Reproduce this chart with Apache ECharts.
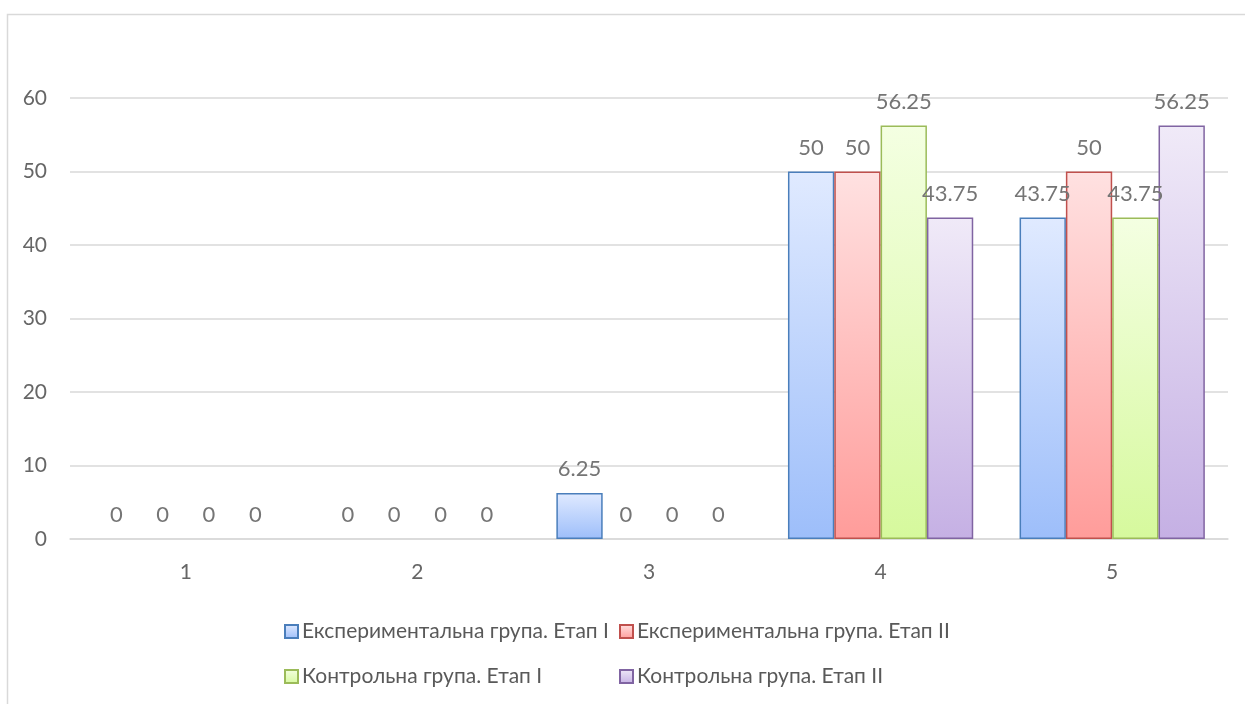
<!DOCTYPE html>
<html>
<head>
<meta charset="utf-8">
<script src="https://cdn.jsdelivr.net/npm/echarts@6/dist/echarts.min.js"></script>
<style>
  html, body { margin: 0; padding: 0; background: #ffffff; }
  #chart { width: 1245px; height: 704px; }
</style>
</head>
<body>
<div id="chart"></div>
<script>
// Categories along the x axis
const categories = ['1', '2', '3', '4', '5'];

// Series names (legend text)
const seriesNames = [
  'Експериментальна група. Етап I',
  'Експериментальна група. Етап II',
  'Контрольна група. Етап I',
  'Контрольна група. Етап II'
];

// Values per series
const expStage1 = [0, 0, 6.25, 50, 43.75];
const expStage2 = [0, 0, 0, 50, 50];
const ctrlStage1 = [0, 0, 0, 56.25, 43.75];
const ctrlStage2 = [0, 0, 0, 43.75, 56.25];

// Y axis range
const yMin = 0;
const yMax = 60;
const yStep = 10;

// Fill gradients (top, bottom) and outline colours per series
const palette = [
  { top: '#e0eaff', bottom: '#9dbefa', border: '#4a7ebb' },
  { top: '#ffe1e1', bottom: '#ff9c9a', border: '#c0504d' },
  { top: '#f4ffe2', bottom: '#d6f99d', border: '#9bbb59' },
  { top: '#f0eaf8', bottom: '#c5b0e4', border: '#8064a2' }
];

const allValues = [expStage1, expStage2, ctrlStage1, ctrlStage2];

const textFont = 'Lato, "Liberation Sans", Arial, sans-serif';

function makeSeries(name, values, colors) {
  return {
    name: name,
    type: 'bar',
    barGap: '0%',
    barCategoryGap: '20%',
    itemStyle: {
      color: new echarts.graphic.LinearGradient(0, 0, 0, 1, [
        { offset: 0, color: colors.top },
        { offset: 1, color: colors.bottom }
      ]),
      borderColor: colors.border,
      borderWidth: 1.5
    },
    label: {
      show: true,
      position: 'top',
      distance: 13,
      color: '#757575',
      fontSize: 22,
      fontFamily: textFont
    },
    // a zero-height bar should not leave an outline stroke on the baseline
    data: values.map(v => v === 0 ? { value: 0, itemStyle: { borderWidth: 0 } } : v)
  };
}

const chart = echarts.init(document.getElementById('chart'), null, { renderer: 'canvas' });

// one legend per entry so the entries sit in two aligned columns
const legendSlots = [
  { left: 284, top: 621 },
  { left: 619, top: 621 },
  { left: 284, top: 666 },
  { left: 619, top: 666 }
];

const legends = seriesNames.map((name, i) => ({
  data: [name],
  left: legendSlots[i].left,
  top: legendSlots[i].top,
  padding: 0,
  icon: 'rect',
  itemWidth: 13,
  itemHeight: 13,
  itemGap: 0,
  selectedMode: false,
  textStyle: {
    color: '#595959',
    fontSize: 21,
    fontFamily: textFont,
    padding: [0, 0, 0, -1]
  }
}));

chart.setOption({
  animation: false,
  backgroundColor: '#ffffff',
  graphic: [{
    type: 'rect',
    silent: true,
    shape: { x: 7.5, y: 14.5, width: 1400, height: 900 },
    style: { fill: 'none', stroke: '#d9d9d9', lineWidth: 1.5 }
  }],
  legend: legends,
  grid: { left: 70, right: 17, top: 98, bottom: 165, containLabel: false },
  xAxis: {
    type: 'category',
    data: categories,
    axisLine: { show: true, lineStyle: { color: '#d9d9d9', width: 1.5 } },
    axisTick: { show: false },
    axisLabel: {
      color: '#666666',
      fontSize: 21,
      fontFamily: textFont,
      margin: 23
    }
  },
  yAxis: {
    type: 'value',
    min: yMin,
    max: yMax,
    interval: yStep,
    axisLine: { show: false },
    axisTick: { show: false },
    splitLine: { lineStyle: { color: '#d9d9d9', width: 1.5 } },
    axisLabel: {
      color: '#666666',
      fontSize: 21,
      fontFamily: textFont,
      margin: 23
    }
  },
  series: seriesNames.map((n, i) => makeSeries(n, allValues[i], palette[i]))
});
</script>
</body>
</html>
